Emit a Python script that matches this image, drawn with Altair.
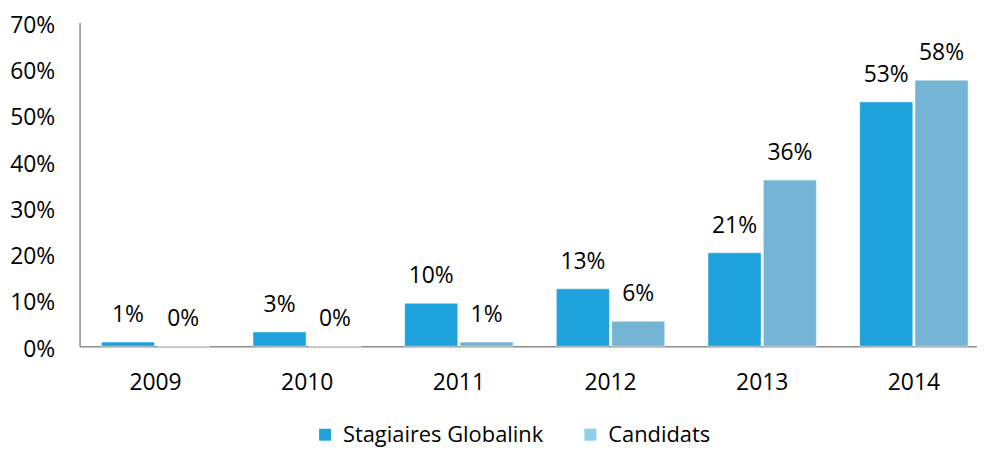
import altair as alt
import pandas as pd

years = ["2009", "2010", "2011", "2012", "2013", "2014"]
series = ["Stagiaires Globalink", "Candidats"]
stagiaires = [0.009, 0.031, 0.093, 0.124, 0.202, 0.528]
candidats = [0.0, 0.0, 0.009, 0.054, 0.359, 0.575]
stagiaires_labels = ["1%", "3%", "10%", "13%", "21%", "53%"]
candidats_labels = ["0%", "0%", "1%", "6%", "36%", "58%"]

bar_colors = ["#1EA2DC", "#74B5D6"]
legend_colors = ["#1EA2DC", "#8ECFEE"]
FONT = "Open Sans"

rows = []
for i, y in enumerate(years):
    rows.append({"year": y, "series": series[0], "value": stagiaires[i], "label": stagiaires_labels[i]})
    rows.append({"year": y, "series": series[1], "value": candidats[i], "label": candidats_labels[i]})
df = pd.DataFrame(rows)

x_enc = alt.X(
    "year:N",
    sort=years,
    scale=alt.Scale(paddingInner=0.285, paddingOuter=0.101, align=0.71),
    axis=alt.Axis(
        title=None, ticks=False, labelAngle=0, domainColor="#8C8C8C", domainWidth=1.5,
        labelFontSize=23, labelFont=FONT, labelColor="#000000", labelPadding=26,
    ),
)
xoff_enc = alt.XOffset("series:N", sort=series, scale=alt.Scale(paddingInner=0.04))
y_enc = alt.Y(
    "value:Q",
    scale=alt.Scale(domain=[0, 0.7], nice=False),
    axis=alt.Axis(
        title=None, format=".0%", values=[0, 0.1, 0.2, 0.3, 0.4, 0.5, 0.6, 0.7],
        grid=False, ticks=False, domainColor="#8C8C8C", domainWidth=1.5,
        labelFontSize=23, labelFont=FONT, labelColor="#000000", labelPadding=25,
        labelOffset=3,
    ),
)

bars = alt.Chart(df).mark_bar(stroke="#FFFFFF", strokeWidth=0.5).encode(
    x=x_enc,
    xOffset=xoff_enc,
    y=y_enc,
    color=alt.Color("series:N", sort=series,
                    scale=alt.Scale(domain=series, range=bar_colors), legend=None),
)

texts = alt.Chart(df).mark_text(
    dy=-20, baseline="alphabetic", fontSize=23, font=FONT, color="#000000"
).encode(
    x=alt.X("year:N", sort=years),
    xOffset=alt.XOffset("series:N", sort=series),
    y=alt.Y("value:Q"),
    text="label:N",
)

legend_layer = alt.Chart(df).mark_square(size=0).encode(
    x=alt.X("year:N", sort=years),
    y=alt.Y("value:Q"),
    color=alt.Color(
        "series:N", sort=series,
        scale=alt.Scale(domain=series, range=legend_colors),
        legend=alt.Legend(
            title=None, orient="none", legendX=236, legendY=404, direction="horizontal",
            symbolType="square", symbolSize=144, symbolStrokeWidth=0, symbolOpacity=1,
            labelFontSize=22, labelFont=FONT, labelColor="#000000", labelOffset=7,
            labelLimit=500, columnPadding=36,
        ),
    ),
)

chart = (
    alt.layer(bars, texts, legend_layer)
    .resolve_scale(color="independent")
    .properties(
        width=903, height=326,
        autosize=alt.AutoSizeParams(type="none"),
        padding={"left": 72, "top": 13, "right": 0, "bottom": 100},
    )
    .configure_view(stroke=None)
)

chart.save("out.html", embed_options={"renderer": "svg", "actions": False})
